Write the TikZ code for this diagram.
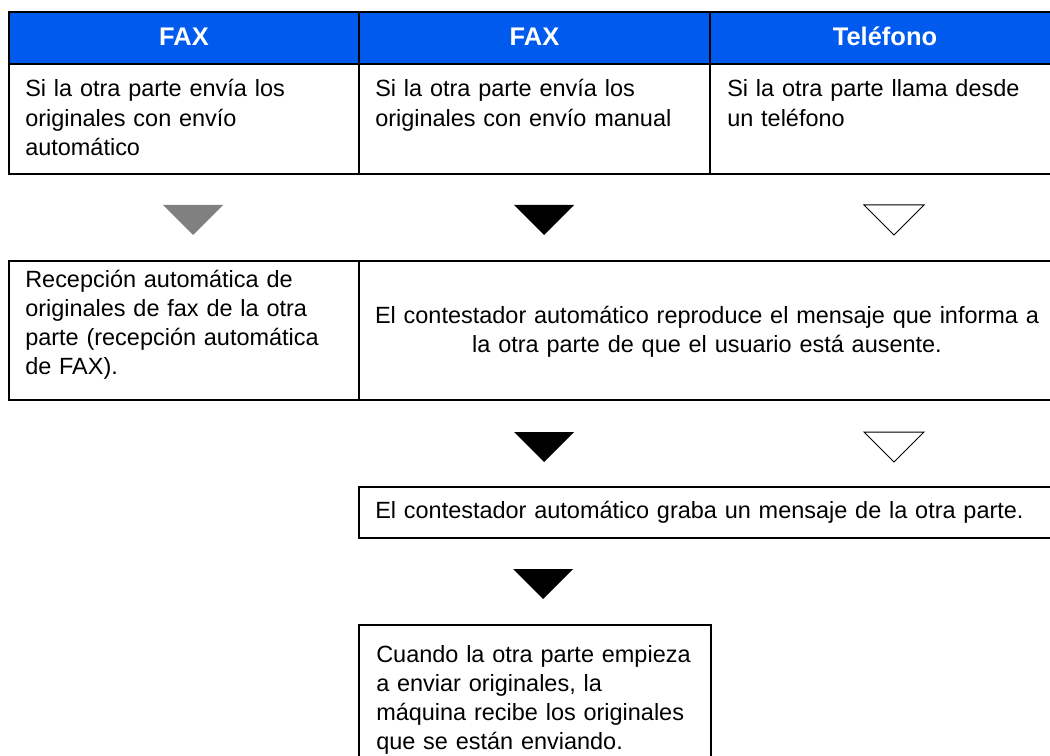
\documentclass[tikz,border=0pt]{standalone}
\usepackage{fontspec}
\setmainfont{Liberation Sans}
\definecolor{hdrblue}{RGB}{0,90,238}
\definecolor{trigray}{RGB}{128,128,128}
\tikzset{
  frame/.style={line width=1.5pt},
  hdr/.style={anchor=base, inner sep=0pt, text=white,
    font=\bfseries\fontsize{19.1}{22}\selectfont},
  cell/.style={anchor=base west, inner sep=0pt, text width=#1, align=left,
    font=\fontsize{17.6}{21.9}\selectfont},
  midcell/.style={cell=#1, anchor=base, align=center}
}
\begin{document}
\begin{tikzpicture}[x=0.75pt, y=-0.75pt]
  \useasboundingbox (0,0) rectangle (1050,756);
  % header row and cases
  \fill[hdrblue] (9,12.5) rectangle (1050,64);
  \draw[frame] (1050,12.5) -- (9,12.5) -- (9,174) -- (1050,174);
  \draw[frame] (9,64) -- (1050,64);
  \draw[frame] (359,11) -- (359,174);
  \draw[frame] (710,11) -- (710,174);
  \node[hdr] (fax1) at (184,46) {FAX};
  \node[hdr] (fax2) at (534.5,46) {FAX};
  \node[hdr] (tel) at (885,46) {Teléfono};
  \node[cell=320] (auto) at (25,97) {Si la otra parte envía los\\originales con envío\\automático};
  \node[cell=320] (manual) at (375,97) {Si la otra parte envía los\\originales con envío manual};
  \node[cell=320] (phone) at (727,97) {Si la otra parte llama desde\\un teléfono};
  % markers
  \foreach \tx/\ty/\tcol in {193/205/trigray, 544/205/black, 544/432/black, 543/569/black}
    \fill[\tcol] (\tx-30,\ty) -- (\tx+30,\ty) -- (\tx,\ty+30) -- cycle;
  \foreach \ty in {205, 432}
    \draw[line width=0.75pt] (864,\ty) -- (924,\ty) -- (894,\ty+30) -- cycle;
  % results
  \draw[frame] (1050,261) -- (9,261) -- (9,400) -- (1050,400);
  \draw[frame] (359,261) -- (359,400);
  \node[cell=320] (faxrx) at (25,287) {Recepción automática de\\originales de fax de la otra\\parte (recepción automática\\de FAX).};
  \node[midcell=680] (answer) at (707,323) {El contestador automático reproduce el mensaje que informa a\\la otra parte de que el usuario está ausente.};
  \draw[frame] (1050,487) -- (359,487) -- (359,538) -- (1050,538);
  \node[cell=680] (record) at (375,518) {El contestador automático graba un mensaje de la otra parte.};
  \draw[frame] (359,756) -- (359,625) -- (711,625) -- (711,756);
  \node[cell=330] (receive) at (376,662) {Cuando la otra parte empieza\\a enviar originales, la\\máquina recibe los originales\\que se están enviando.};
\end{tikzpicture}
\end{document}
